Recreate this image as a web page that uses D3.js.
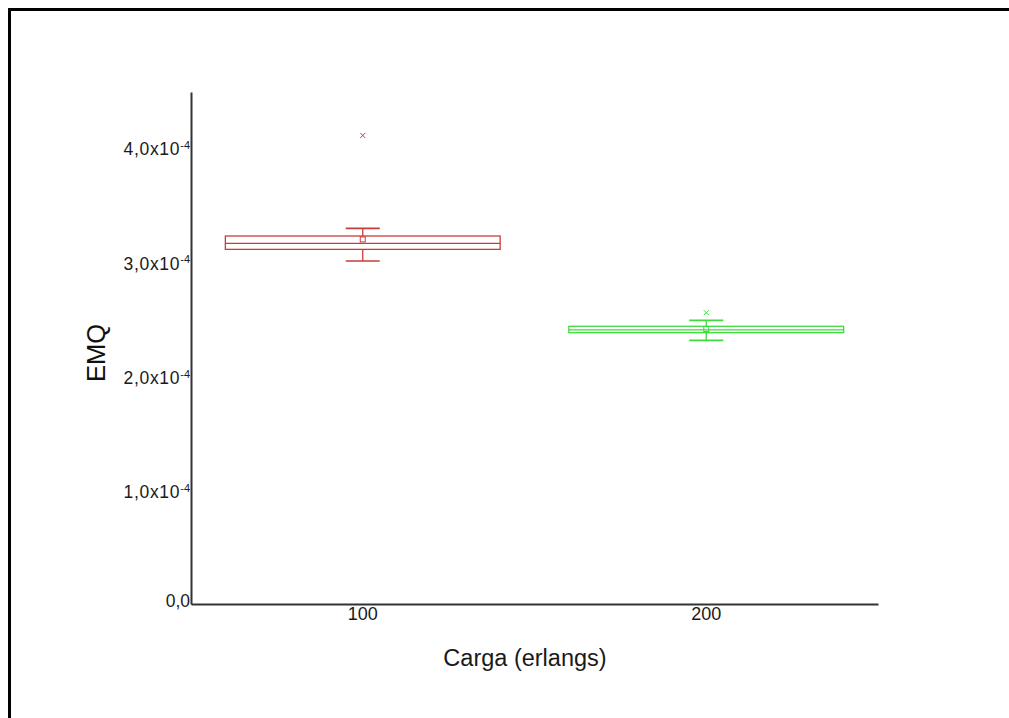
<!DOCTYPE html>
<html><head><meta charset="utf-8">
<script src="https://cdn.jsdelivr.net/npm/d3@7"></script>
<style>body{margin:0;background:#fff;} svg{display:block;font-family:"Liberation Sans",Arial,sans-serif;}</style>
</head><body>
<svg id="c" width="1009" height="718"></svg>
<script>
const categories = ["100", "200"];
const colors = ["#c83c3c", "#3ddc3d"];
const whiskerLow = [3.001e-4, 2.307e-4];
const q1 = [3.103e-4, 2.374e-4];
const median = [3.156e-4, 2.398e-4];
const q3 = [3.22e-4, 2.43e-4];
const whiskerHigh = [3.287e-4, 2.482e-4];
const means = [3.19e-4, 2.406e-4];
const outliers = [[4.10e-4], [2.549e-4]];
const yTicks = [0, 1e-4, 2e-4, 3e-4, 4e-4];
const yTickLabels = ["0,0", "1,0x10", "2,0x10", "3,0x10", "4,0x10"];

const svg = d3.select("#c");
svg.append("rect").attr("x", 9.5).attr("y", 9.5).attr("width", 1010).attr("height", 720)
  .attr("fill", "none").attr("stroke", "#000").attr("stroke-width", 3);

const x = d3.scaleBand().domain(categories).range([191, 878]).paddingInner(0).paddingOuter(0);
const y = d3.scaleLinear().domain([0, 4.48e-4]).range([604, 92]);

// axes
const yAx = svg.append("g").attr("transform", "translate(191,0)")
  .call(d3.axisLeft(y).tickValues(yTicks).tickSize(0).tickPadding(1).tickFormat((d, i) => yTickLabels[i]));
yAx.attr("font-size", 17.5).attr("font-family", "Liberation Sans, Arial, sans-serif");
yAx.select(".domain").attr("stroke", "#333").attr("stroke-width", 2);
yAx.selectAll("text").attr("fill", "#1a1a1a")
  .each(function(d, i) {
    if (d !== 0) {
      const t = d3.select(this);
      t.text(null);
      t.append("tspan").attr("letter-spacing", 0.7).text(yTickLabels[i]);
      t.append("tspan").attr("dy", "-0.55em").attr("font-size", 11).text("-4");
    }
  });
yAx.selectAll(".tick text").attr("dy", function(d){ return d === 0 ? "0.15em" : "0.45em"; });

const xAx = svg.append("g").attr("transform", "translate(0,604)")
  .call(d3.axisBottom(x).tickSize(0).tickPadding(3));
xAx.attr("font-size", 18).attr("font-family", "Liberation Sans, Arial, sans-serif");
xAx.select(".domain").attr("stroke", "#333").attr("stroke-width", 2);
xAx.selectAll("text").attr("fill", "#1a1a1a");

// labels
svg.append("text").attr("x", 525).attr("y", 666).attr("text-anchor", "middle")
  .attr("font-size", 23.5).attr("fill", "#1a1a1a").text("Carga (erlangs)");
svg.append("text").attr("transform", "translate(105,353) rotate(-90)").attr("text-anchor", "middle")
  .attr("font-size", 25.5).attr("fill", "#111").text("EMQ");

// boxes
const bw = x.bandwidth() * 0.8;
const capW = 34;
categories.forEach((c, i) => {
  const cx = x(c) + x.bandwidth() / 2;
  const g = svg.append("g").attr("stroke", colors[i]).attr("fill", "none").attr("stroke-width", 1.3);
  g.append("line").attr("x1", cx).attr("x2", cx).attr("y1", y(whiskerHigh[i])).attr("y2", y(q3[i]));
  g.append("line").attr("x1", cx).attr("x2", cx).attr("y1", y(q1[i])).attr("y2", y(whiskerLow[i]));
  g.append("line").attr("x1", cx - capW/2).attr("x2", cx + capW/2).attr("y1", y(whiskerHigh[i])).attr("y2", y(whiskerHigh[i])).attr("stroke-width", 1.6);
  g.append("line").attr("x1", cx - capW/2).attr("x2", cx + capW/2).attr("y1", y(whiskerLow[i])).attr("y2", y(whiskerLow[i])).attr("stroke-width", 1.6);
  g.append("rect").attr("x", cx - bw/2).attr("y", y(q3[i])).attr("width", bw).attr("height", y(q1[i]) - y(q3[i]));
  g.append("line").attr("x1", cx - bw/2).attr("x2", cx + bw/2).attr("y1", y(median[i])).attr("y2", y(median[i]));
  g.append("rect").attr("x", cx - 2.5).attr("y", y(means[i]) - 2.5).attr("width", 5).attr("height", 5).attr("stroke-width", 1);
  outliers[i].forEach(v => {
    const oy = y(v), s = 2.5;
    g.append("path").attr("d", `M${cx-s},${oy-s}L${cx+s},${oy+s}M${cx-s},${oy+s}L${cx+s},${oy-s}`).attr("stroke-width", 1);
  });
});
</script>
</body></html>
